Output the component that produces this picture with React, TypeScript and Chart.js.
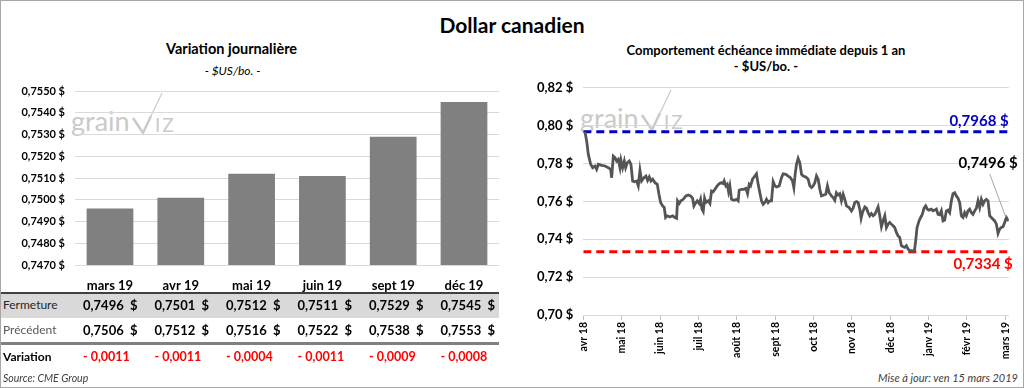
import React, { useEffect, useRef } from "react";
import { Chart, registerables } from "chart.js";

Chart.register(...registerables);

const FONT = "Lato, 'Open Sans', sans-serif";

// ---- Left chart (daily variation) ----
const barCategories = ["mars 19", "avr 19", "mai 19", "juin 19", "sept 19", "déc 19"];
const closeValues = [0.7496, 0.7501, 0.7512, 0.7511, 0.7529, 0.7545];
const previousValues = [0.7506, 0.7512, 0.7516, 0.7522, 0.7538, 0.7553];
const variationValues = [-0.0011, -0.0011, -0.0004, -0.0011, -0.0009, -0.0008];
const barAxisMin = 0.747;
const barAxisMax = 0.755;
const barAxisStep = 0.001;

// ---- Right chart (front month over one year) ----
const monthLabels = ["avr 18", "mai 18", "juin 18", "juil 18", "août 18", "sept 18", "oct 18", "nov 18", "déc 18", "janv 19", "févr 19", "mars 19"];
const lineMonths = [
  0.044, 0.088, 0.131, 0.192, 0.244, 0.305, 0.348, 0.392, 0.478, 0.565, 0.652, 0.713, 0.739, 0.782, 0.826, 0.869, 0.912, 0.956, 0.982, 1.025,
  1.069, 1.103, 1.147, 1.199, 1.242, 1.286, 1.329, 1.390, 1.433, 1.477, 1.520, 1.581, 1.633, 1.676, 1.720, 1.763, 1.807, 1.868, 1.928, 1.972,
  2.015, 2.067, 2.110, 2.145, 2.189, 2.258, 2.327, 2.388, 2.431, 2.457, 2.501, 2.544, 2.605, 2.674, 2.735, 2.796, 2.848, 2.883, 2.935, 2.970,
  3.022, 3.057, 3.092, 3.126, 3.161, 3.196, 3.257, 3.301, 3.343, 3.387, 3.431, 3.491, 3.543, 3.603, 3.647, 3.673, 3.716, 3.751, 3.786, 3.820,
  3.864, 3.925, 3.994, 4.037, 4.063, 4.124, 4.185, 4.237, 4.281, 4.324, 4.359, 4.411, 4.472, 4.514, 4.558, 4.602, 4.645, 4.689, 4.732, 4.775,
  4.819, 4.862, 4.906, 4.949, 4.993, 5.036, 5.106, 5.166, 5.209, 5.279, 5.340, 5.400, 5.453, 5.488, 5.522, 5.557, 5.600, 5.644, 5.688, 5.731,
  5.800, 5.861, 5.905, 5.948, 5.991, 6.035, 6.078, 6.122, 6.165, 6.208, 6.269, 6.320, 6.364, 6.408, 6.468, 6.512, 6.555, 6.598, 6.642, 6.686,
  6.729, 6.773, 6.816, 6.859, 6.929, 6.990, 7.033, 7.076, 7.120, 7.163, 7.207, 7.241, 7.276, 7.337, 7.380, 7.424, 7.467, 7.510, 7.554, 7.597,
  7.641, 7.684, 7.727, 7.771, 7.814, 7.858, 7.901, 7.944, 7.988, 8.030, 8.074, 8.117, 8.161, 8.204, 8.247, 8.291, 8.334, 8.378, 8.421, 8.465,
  8.508, 8.551, 8.595, 8.638, 8.664, 8.699, 8.751, 8.794, 8.838, 8.881, 8.925, 8.968, 9.011, 9.072, 9.116, 9.159, 9.203, 9.246, 9.290, 9.333,
  9.377, 9.420, 9.463, 9.507, 9.550, 9.594, 9.637, 9.681, 9.724, 9.767, 9.811, 9.854, 9.898, 9.941, 9.984, 10.028, 10.071, 10.115, 10.158, 10.202,
  10.245, 10.289, 10.332, 10.376, 10.419, 10.462, 10.506, 10.549, 10.593, 10.636, 10.680, 10.723, 10.767, 10.810, 10.854, 10.897, 10.940, 10.984, 11.027, 11.090,
];
const lineValues = [
  0.7968, 0.7918, 0.7848, 0.7796, 0.7778, 0.7787, 0.7769, 0.7796, 0.7790, 0.7787, 0.7778, 0.7769, 0.7725, 0.7839, 0.7831, 0.7813, 0.7822, 0.7778, 0.7817, 0.7778,
  0.7813, 0.7778, 0.7804, 0.7813, 0.7796, 0.7708, 0.7704, 0.7708, 0.7682, 0.7764, 0.7708, 0.7725, 0.7734, 0.7711, 0.7729, 0.7708, 0.7717, 0.7699, 0.7690, 0.7638,
  0.7594, 0.7576, 0.7568, 0.7515, 0.7524, 0.7518, 0.7524, 0.7515, 0.7511, 0.7603, 0.7589, 0.7603, 0.7611, 0.7629, 0.7634, 0.7629, 0.7617, 0.7576, 0.7594, 0.7603,
  0.7589, 0.7611, 0.7559, 0.7546, 0.7617, 0.7594, 0.7603, 0.7589, 0.7655, 0.7651, 0.7664, 0.7682, 0.7694, 0.7699, 0.7694, 0.7708, 0.7682, 0.7690, 0.7651, 0.7682,
  0.7611, 0.7606, 0.7611, 0.7603, 0.7659, 0.7664, 0.7664, 0.7669, 0.7641, 0.7690, 0.7682, 0.7717, 0.7734, 0.7746, 0.7690, 0.7646, 0.7603, 0.7585, 0.7594, 0.7611,
  0.7594, 0.7603, 0.7603, 0.7704, 0.7682, 0.7676, 0.7682, 0.7725, 0.7746, 0.7743, 0.7734, 0.7725, 0.7708, 0.7673, 0.7743, 0.7796, 0.7827, 0.7804, 0.7743, 0.7734,
  0.7729, 0.7717, 0.7682, 0.7673, 0.7682, 0.7699, 0.7734, 0.7717, 0.7664, 0.7629, 0.7634, 0.7638, 0.7682, 0.7646, 0.7629, 0.7620, 0.7606, 0.7646, 0.7634, 0.7641,
  0.7603, 0.7638, 0.7611, 0.7576, 0.7568, 0.7550, 0.7564, 0.7594, 0.7599, 0.7594, 0.7559, 0.7511, 0.7541, 0.7571, 0.7564, 0.7541, 0.7524, 0.7536, 0.7524, 0.7532,
  0.7550, 0.7571, 0.7524, 0.7466, 0.7497, 0.7524, 0.7462, 0.7480, 0.7489, 0.7480, 0.7471, 0.7462, 0.7436, 0.7418, 0.7410, 0.7366, 0.7361, 0.7357, 0.7366, 0.7348,
  0.7340, 0.7340, 0.7334, 0.7348, 0.7392, 0.7462, 0.7497, 0.7515, 0.7532, 0.7564, 0.7576, 0.7559, 0.7554, 0.7559, 0.7550, 0.7554, 0.7559, 0.7532, 0.7529, 0.7550,
  0.7497, 0.7501, 0.7550, 0.7554, 0.7541, 0.7603, 0.7641, 0.7646, 0.7629, 0.7617, 0.7594, 0.7524, 0.7515, 0.7541, 0.7524, 0.7550, 0.7559, 0.7541, 0.7532, 0.7550,
  0.7564, 0.7603, 0.7568, 0.7611, 0.7585, 0.7603, 0.7611, 0.7603, 0.7524, 0.7515, 0.7506, 0.7497, 0.7480, 0.7431, 0.7454, 0.7462, 0.7466, 0.7489, 0.7515, 0.7496,
];
const highValue = 0.7968;
const lowValue = 0.7334;
const lineAxisMin = 0.7;
const lineAxisMax = 0.82;
const lineAxisStep = 0.02;

const fmt4 = (v: number) => v.toFixed(4).replace(".", ",");
const fmtVar = (v: number) => (v < 0 ? "- " : "+ ") + Math.abs(v).toFixed(4).replace(".", ",");

function BarChart() {
  const ref = useRef<HTMLCanvasElement | null>(null);
  useEffect(() => {
    if (!ref.current) return;
    const chart = new Chart(ref.current, {
      type: "bar",
      data: {
        labels: barCategories,
        datasets: [
          {
            data: closeValues,
            backgroundColor: "#808080",
            borderWidth: 0,
            barPercentage: 0.66,
            categoryPercentage: 1,
          },
        ],
      },
      options: {
        animation: false,
        responsive: false,
        maintainAspectRatio: false,
        layout: { padding: { top: 12.3, right: 5.6, bottom: 0, left: 0 } },
        plugins: { legend: { display: false }, tooltip: { enabled: false } },
        scales: {
          x: {
            grid: { display: false, drawTicks: false, tickLength: 0, color: "rgba(0,0,0,0)" },
            border: { display: false },
            ticks: { color: "#000", padding: 13, font: { family: FONT, size: 13, weight: "bold" } },
            afterFit: (s: any) => { s.height = 30; },
          },
          y: {
            min: barAxisMin,
            max: barAxisMax,
            ticks: {
              stepSize: barAxisStep,
              color: "#000",
              padding: 9.6,
              font: { family: FONT, size: 11, weight: "bold" },
              callback: (v: any) => fmt4(Number(v)) + " $",
            },
            grid: { color: "#d9d9d9", drawTicks: false },
            border: { display: false },
            afterFit: (s: any) => { s.width = 74.6; },
          },
        },
      },
    });
    return () => chart.destroy();
  }, []);
  return <canvas ref={ref} width={505} height={220} style={{ position: "absolute", left: 0, top: 75 }} />;
}

function LineChart() {
  const ref = useRef<HTMLCanvasElement | null>(null);
  useEffect(() => {
    if (!ref.current) return;
    const xMax = lineMonths[lineMonths.length - 1];
    const lastIdx = lineValues.length - 1;
    const annot = {
      id: "annot",
      afterDatasetsDraw(chart: any) {
        const { ctx, scales, chartArea } = chart;
        const x = scales.x;
        const y = scales.y;
        ctx.save();
        ctx.font = `bold 15px ${FONT}`;
        ctx.textAlign = "right";
        ctx.textBaseline = "alphabetic";
        ctx.fillStyle = "#0000c0";
        ctx.fillText(fmt4(highValue) + " $", chartArea.right, y.getPixelForValue(highValue) - 6);
        ctx.fillStyle = "#ff0000";
        ctx.fillText(fmt4(lowValue) + " $", chartArea.right + 4, y.getPixelForValue(lowValue) + 17);
        const px = x.getPixelForValue(lineMonths[lastIdx]);
        const py = y.getPixelForValue(lineValues[lastIdx]);
        ctx.strokeStyle = "#a6a6a6";
        ctx.lineWidth = 1;
        ctx.beginPath();
        ctx.moveTo(px - 3, py - 4);
        ctx.lineTo(px - 19, py - 47);
        ctx.stroke();
        ctx.fillStyle = "#000";
        ctx.fillText(fmt4(lineValues[lastIdx]) + " $", px + 9, py - 53);
        ctx.restore();
      },
    };
    const chart = new Chart(ref.current, {
      type: "line",
      data: {
        datasets: [
          {
            data: lineMonths.map((m, i) => ({ x: m, y: lineValues[i] })),
            borderColor: "#555555",
            borderWidth: 2.8,
            pointRadius: 0,
            tension: 0,
          },
          {
            data: [{ x: 0, y: highValue }, { x: xMax, y: highValue }],
            borderColor: "#0000c0",
            borderWidth: 3,
            borderDash: [8, 5],
            pointRadius: 0,
          },
          {
            data: [{ x: 0, y: lowValue }, { x: xMax, y: lowValue }],
            borderColor: "#ff0000",
            borderWidth: 3,
            borderDash: [8, 5],
            pointRadius: 0,
          },
        ],
      },
      options: {
        animation: false,
        responsive: false,
        maintainAspectRatio: false,
        layout: { padding: { top: 16.5, right: 10.7, bottom: 7, left: 0 } },
        plugins: { legend: { display: false }, tooltip: { enabled: false } },
        scales: {
          x: {
            type: "linear",
            min: 0,
            max: xMax,
            clip: false,
            afterBuildTicks: (s: any) => { s.ticks = monthLabels.map((_, i) => ({ value: i })); },
            ticks: {
              autoSkip: false,
              minRotation: 90,
              maxRotation: 90,
              padding: 2,
              color: "#000",
              font: { family: FONT, size: 10.5, weight: "bold" },
              callback: (v: any) => monthLabels[Math.round(Number(v))] ?? "",
            },
            grid: { drawOnChartArea: false, drawTicks: true, tickLength: 5, color: "#bfbfbf" },
            border: { display: true, color: "#d9d9d9" },
            afterFit: (s: any) => { s.height = 48; },
          },
          y: {
            min: lineAxisMin,
            max: lineAxisMax,
            ticks: {
              stepSize: lineAxisStep,
              color: "#000",
              padding: 10,
              font: { family: FONT, size: 13, weight: "bold" },
              callback: (v: any) => Number(v).toFixed(2).replace(".", ",") + " $",
            },
            grid: { color: "#d9d9d9", drawTicks: false },
            border: { display: false },
            afterFit: (s: any) => { s.width = 63.3; },
          },
        },
      },
      plugins: [annot],
    });
    return () => chart.destroy();
  }, []);
  return <canvas ref={ref} width={500} height={300} style={{ position: "absolute", left: 520, top: 70 }} />;
}

function Watermark({ left, top }: { left: number; top: number }) {
  return (
    <div style={{ position: "absolute", left, top, width: 110, height: 45, pointerEvents: "none" }}>
      <span style={{ position: "absolute", left: 0, top: 14, font: `400 27px/27px ${FONT}`, color: "#cacaca" }}>grain</span>
      <svg width={110} height={45} style={{ position: "absolute", left: 0, top: 0 }}>
        <polyline points="62,25 72,40 80,23" fill="none" stroke="#cacaca" strokeWidth={2.5} />
        <polyline points="80,23 91,0" fill="none" stroke="#cacaca" strokeWidth={1.2} />
      </svg>
      <span style={{ position: "absolute", left: 84, top: 22, font: `400 19px/19px ${FONT}`, color: "#cacaca", letterSpacing: 2 }}>IZ</span>
    </div>
  );
}

function Text({ x, y, size, children, align = "left", weight = "normal", italic = false, color = "#000" }: any) {
  const style: any = {
    position: "absolute",
    top: y - 0.887 * size,
    font: `${italic ? "italic " : ""}${weight} ${size}px/${size}px ${FONT}`,
    color,
    whiteSpace: "pre",
  };
  if (align === "center") {
    style.left = x;
    style.transform = "translateX(-50%)";
  } else if (align === "right") {
    style.right = 1024 - x;
  } else {
    style.left = x;
  }
  return <div style={style}>{children}</div>;
}

const colLeft = (k: number) => 83 + 71.5 * k;

export default function App() {
  useEffect(() => {
    document.body.style.margin = "0";
  }, []);
  return (
    <div style={{ position: "fixed", left: 0, top: 0, width: 1024, height: 388, background: "#fff", overflow: "hidden", fontFamily: FONT }}>
      <div style={{ position: "absolute", inset: 0, border: "1px solid #a6a6a6", boxSizing: "border-box" }} />
      <Text x={512} y={33} size={21} weight="bold" align="center">Dollar canadien</Text>

      {/* Left panel */}
      <Text x={231.5} y={55} size={14.5} weight="bold" align="center">Variation journalière</Text>
      <Text x={232.5} y={76} size={12} italic align="center">- $US/bo. -</Text>
      <Watermark left={71} top={93} />
      <BarChart />

      <div style={{ position: "absolute", left: 1, top: 292, width: 498, height: 2, background: "#404040" }} />
      <div style={{ position: "absolute", left: 1, top: 294, width: 498, height: 24, background: "#d9d9d9" }} />
      <div style={{ position: "absolute", left: 1, top: 342, width: 498, height: 3, background: "#808080" }} />
      <Text x={3} y={310} size={12} color="#262626">Fermeture</Text>
      <Text x={3} y={335} size={12} color="#595959">Précédent</Text>
      <Text x={3} y={362} size={12} weight="bold">Variation</Text>
      {closeValues.map((v, k) => (
        <React.Fragment key={"c" + k}>
          <Text x={colLeft(k)} y={311} size={13} weight="bold">{fmt4(v)}</Text>
          <Text x={colLeft(k) + 47} y={311} size={13} weight="bold">$</Text>
        </React.Fragment>
      ))}
      {previousValues.map((v, k) => (
        <React.Fragment key={"p" + k}>
          <Text x={colLeft(k)} y={336} size={13} weight="bold">{fmt4(v)}</Text>
          <Text x={colLeft(k) + 47} y={336} size={13} weight="bold">$</Text>
        </React.Fragment>
      ))}
      {variationValues.map((v, k) => (
        <Text key={"v" + k} x={colLeft(k)} y={362} size={12.5} weight="bold" color="#ff0000">{fmtVar(v)}</Text>
      ))}
      <Text x={3} y={382} size={10.5} italic color="#404040">Source: CME Group</Text>

      {/* Right panel */}
      <Text x={766} y={56} size={13} weight="bold" align="center">Comportement échéance immédiate depuis 1 an</Text>
      <Text x={766} y={72} size={13} weight="bold" align="center">- $US/bo. -</Text>
      <Watermark left={580} top={90} />
      <LineChart />
      <Text x={1018} y={382} size={11} italic color="#404040" align="right">Mise à jour: ven 15 mars 2019</Text>
    </div>
  );
}
